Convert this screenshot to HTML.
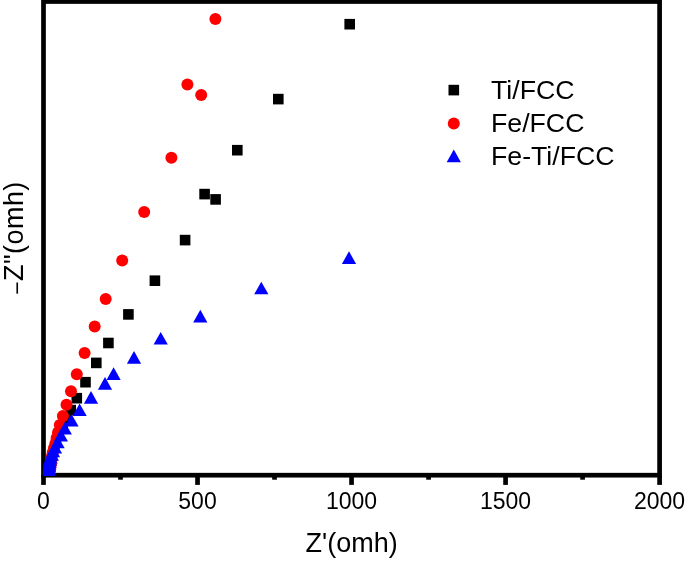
<!DOCTYPE html>
<html><head><meta charset="utf-8"><title>Nyquist plot</title>
<style>
html,body{margin:0;padding:0;background:#fff;}
svg{display:block;}
text{font-family:"Liberation Sans",Arial,sans-serif;fill:#000;}
.tk{font-size:23px;text-anchor:middle;}
.lg{font-size:26.7px;}
.ti{font-size:27px;text-anchor:middle;}
</style></head><body>
<svg width="685" height="561" viewBox="0 0 685 561">
<rect width="685" height="561" fill="#fff"/>
<defs><clipPath id="cp"><rect x="42.9" y="1.5" width="616.7" height="474.4"/></clipPath></defs>

<g stroke="#000" stroke-width="4.7" fill="none">
<rect x="43.5" y="1.5" width="616.1" height="473.7"/>
<line x1="43.50" y1="475.2" x2="43.50" y2="484.9"/>
<line x1="197.53" y1="475.2" x2="197.53" y2="484.9"/>
<line x1="351.55" y1="475.2" x2="351.55" y2="484.9"/>
<line x1="505.57" y1="475.2" x2="505.57" y2="484.9"/>
<line x1="659.60" y1="475.2" x2="659.60" y2="484.9"/>
<line x1="120.51" y1="475.2" x2="120.51" y2="479.7"/>
<line x1="274.54" y1="475.2" x2="274.54" y2="479.7"/>
<line x1="428.56" y1="475.2" x2="428.56" y2="479.7"/>
<line x1="582.59" y1="475.2" x2="582.59" y2="479.7"/>
</g>
<g clip-path="url(#cp)">
<g fill="#000"><rect x="344.40" y="18.90" width="10.6" height="10.6"/><rect x="273.00" y="93.80" width="10.6" height="10.6"/><rect x="232.00" y="144.90" width="10.6" height="10.6"/><rect x="199.30" y="188.80" width="10.6" height="10.6"/><rect x="210.30" y="194.10" width="10.6" height="10.6"/><rect x="179.80" y="234.80" width="10.6" height="10.6"/><rect x="149.60" y="275.40" width="10.6" height="10.6"/><rect x="123.10" y="309.10" width="10.6" height="10.6"/><rect x="103.10" y="337.70" width="10.6" height="10.6"/><rect x="91.00" y="357.60" width="10.6" height="10.6"/><rect x="80.20" y="376.90" width="10.6" height="10.6"/><rect x="71.50" y="392.90" width="10.6" height="10.6"/><rect x="65.40" y="404.80" width="10.6" height="10.6"/><rect x="60.70" y="414.20" width="10.6" height="10.6"/><rect x="57.30" y="422.20" width="10.6" height="10.6"/></g>
<g fill="#f00"><circle cx="215.40" cy="19.00" r="6.0"/><circle cx="187.40" cy="84.40" r="6.0"/><circle cx="201.20" cy="94.90" r="6.0"/><circle cx="171.40" cy="157.70" r="6.0"/><circle cx="144.20" cy="212.10" r="6.0"/><circle cx="122.20" cy="260.50" r="6.0"/><circle cx="105.70" cy="298.90" r="6.0"/><circle cx="94.70" cy="326.60" r="6.0"/><circle cx="84.60" cy="353.00" r="6.0"/><circle cx="76.80" cy="374.20" r="6.0"/><circle cx="71.00" cy="391.30" r="6.0"/><circle cx="66.50" cy="404.70" r="6.0"/><circle cx="62.90" cy="416.00" r="6.0"/><circle cx="59.80" cy="425.00" r="6.0"/><circle cx="58.00" cy="432.50" r="6.0"/><circle cx="56.60" cy="438.00" r="6.0"/><circle cx="55.40" cy="443.40" r="6.0"/><circle cx="54.00" cy="448.00" r="6.0"/><circle cx="52.80" cy="452.30" r="6.0"/><circle cx="52.00" cy="456.00" r="6.0"/><circle cx="51.40" cy="460.00" r="6.0"/><circle cx="51.00" cy="464.00" r="6.0"/><circle cx="50.30" cy="468.00" r="6.0"/><circle cx="49.80" cy="471.00" r="6.0"/></g>
<g fill="#00f"><polygon points="349.00,251.30 356.10,263.90 341.90,263.90"/><polygon points="261.30,281.70 268.40,294.30 254.20,294.30"/><polygon points="200.30,309.80 207.40,322.40 193.20,322.40"/><polygon points="160.70,332.00 167.80,344.60 153.60,344.60"/><polygon points="134.00,351.10 141.10,363.70 126.90,363.70"/><polygon points="113.60,367.30 120.70,379.90 106.50,379.90"/><polygon points="105.00,377.10 112.10,389.70 97.90,389.70"/><polygon points="91.00,391.10 98.10,403.70 83.90,403.70"/><polygon points="79.60,403.50 86.70,416.10 72.50,416.10"/><polygon points="71.50,414.00 78.60,426.60 64.40,426.60"/><polygon points="64.80,421.90 71.90,434.50 57.70,434.50"/><polygon points="60.90,429.00 68.00,441.60 53.80,441.60"/><polygon points="57.60,435.70 64.70,448.30 50.50,448.30"/><polygon points="55.00,440.80 62.10,453.40 47.90,453.40"/><polygon points="53.00,444.60 60.10,457.20 45.90,457.20"/><polygon points="51.80,448.10 58.90,460.70 44.70,460.70"/><polygon points="50.70,450.80 57.80,463.40 43.60,463.40"/><polygon points="50.00,453.20 57.10,465.80 42.90,465.80"/><polygon points="49.60,455.20 56.70,467.80 42.50,467.80"/><polygon points="49.30,457.20 56.40,469.80 42.20,469.80"/><polygon points="49.10,459.20 56.20,471.80 42.00,471.80"/><polygon points="48.90,461.20 56.00,473.80 41.80,473.80"/><polygon points="48.80,463.20 55.90,475.80 41.70,475.80"/><polygon points="48.70,465.20 55.80,477.80 41.60,477.80"/></g>
</g>
<g fill="#000"><rect x="448.50" y="84.80" width="10.6" height="10.6"/></g>
<g fill="#f00"><circle cx="453.80" cy="123.60" r="6.0"/></g>
<g fill="#00f"><polygon points="453.80,149.60 460.90,162.20 446.70,162.20"/></g>
<text class="lg" x="491" y="98.8">Ti/FCC</text>
<text class="lg" x="491" y="132.1">Fe/FCC</text>
<text class="lg" x="491" y="165.1">Fe-Ti/FCC</text>
<text class="tk" x="43.50" y="509.4">0</text>
<text class="tk" x="197.53" y="509.4">500</text>
<text class="tk" x="351.55" y="509.4">1000</text>
<text class="tk" x="505.57" y="509.4">1500</text>
<text class="tk" x="659.60" y="509.4">2000</text>
<text class="ti" x="351.7" y="551.6">Z'(omh)</text>
<text class="ti" style="letter-spacing:0.45px" transform="translate(22.6,238.0) rotate(-90)"><tspan font-size="23px" dy="2.4">−</tspan><tspan dy="-2.4">Z"(omh)</tspan></text>
</svg></body></html>
